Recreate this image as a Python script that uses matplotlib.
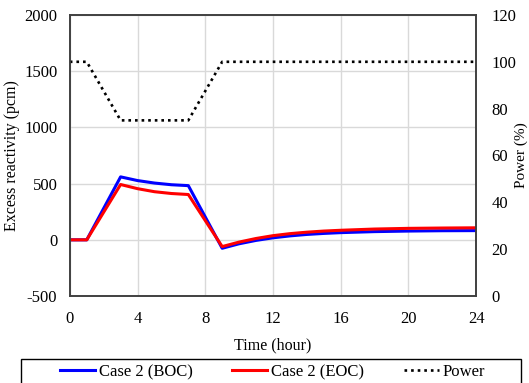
import matplotlib.pyplot as plt
from matplotlib.patches import Rectangle

plt.rcParams['font.family'] = ['Liberation Serif', 'DejaVu Serif']
plt.rcParams['axes.unicode_minus'] = False

# excess reactivity over one load-follow day
t_boc = [0, 1, 3, 4, 5, 6, 7, 9, 10, 11, 12, 13, 14, 15, 16, 18, 20, 22, 24]
rho_boc = [0, 0, 560, 527, 505, 490, 482, -75, -35, -5, 18, 35, 48, 57, 64, 73, 78, 81, 82]
t_eoc = [0, 1, 3, 4, 5, 6, 7, 9, 10, 11, 12, 13, 14, 15, 16, 18, 20, 22, 24]
rho_eoc = [0, 0, 492, 455, 428, 412, 403, -60, -20, 12, 37, 55, 68, 78, 85, 96, 102, 105, 107]

# power schedule (%)
t_power = [0, 1, 3, 7, 9, 24]
power = [100, 100, 75, 75, 100, 100]

x_ticks = [0, 4, 8, 12, 16, 20, 24]

fig = plt.figure(figsize=(5.29, 3.83), dpi=100)
ax = fig.add_axes([0.132, 0.227, 0.768, 0.734])
ax2 = ax.twinx()

l1, = ax.plot(t_boc, rho_boc, color='#0000ff', lw=2.2, label='Case 2 (BOC)')
l2, = ax.plot(t_eoc, rho_eoc, color='#ff0000', lw=2.2, label='Case 2 (EOC)')
l3, = ax2.plot(t_power, power, color='black', lw=1.9, linestyle=(0, (1, 1.5)), label='Power')

ax.set_xlim(0, 24)
ax.set_ylim(-500, 2000)
ax.set_xticks(x_ticks)
ax.set_yticks(range(-500, 2001, 500))
ax2.set_ylim(0, 120)
ax2.set_yticks(range(0, 121, 20))

ax.grid(True, color='#d9d9d9', lw=1)
ax.set_axisbelow(True)
ax.tick_params(axis='x', length=0, labelsize=12, pad=11)
ax.tick_params(axis='y', length=0, labelsize=12, pad=9)
ax2.tick_params(length=0, labelsize=12, pad=11)
for a in (ax, ax2):
    for s in a.spines.values():
        s.set_color('#404040')
        s.set_linewidth(1.2)

ax.set_xlabel('Time (hour)', fontsize=11.5, labelpad=7)
ax.set_ylabel('Excess reactivity (pcm)', fontsize=11.5, labelpad=3)
ax2.set_ylabel('Power (%)', fontsize=11, labelpad=-1)

# legend box below the axes
fig.patches.append(Rectangle((21 / 529, -0.01), 500 / 529, (383 - 359) / 383 + 0.01,
                             transform=fig.transFigure, fill=False,
                             edgecolor='black', lw=1))
fig.legend(handles=[l1, l2, l3], loc='center', ncol=3,
           bbox_to_anchor=(0.515, (383 - 372) / 383), fontsize=12,
           handlelength=2.1, handletextpad=0.2, columnspacing=2.4,
           borderpad=0, frameon=False)

fig.savefig('out.png', dpi=100)
